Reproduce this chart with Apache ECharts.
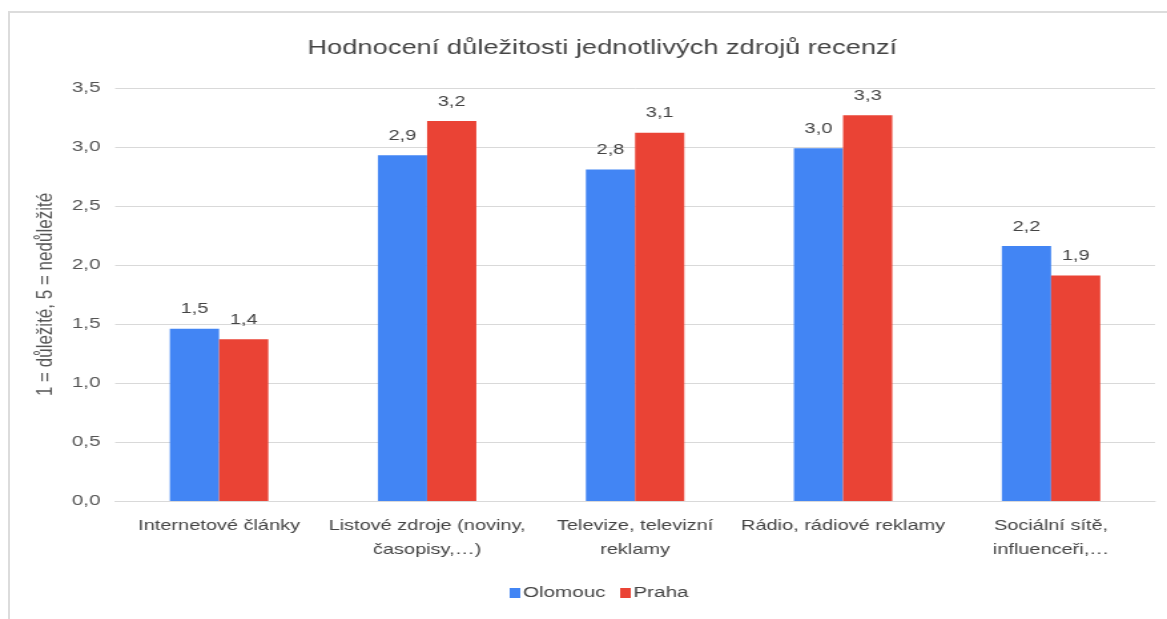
<!DOCTYPE html>
<html>
<head>
<meta charset="utf-8">
<script src="https://cdn.jsdelivr.net/npm/echarts@6/dist/echarts.min.js"></script>
<style>
  html, body { margin: 0; padding: 0; background: #fff; overflow: hidden; }
  #frame { position: absolute; left: 8px; top: 11px; width: 1159px; height: 608px;
           border-top: 2px solid #dcdcdc; border-left: 2px solid #dcdcdc; }
  /* the reference is a horizontally stretched render, so draw narrower and stretch */
  #chart { position: absolute; left: 0; top: 0; width: 877px; height: 619px;
           transform: scaleX(1.3307); transform-origin: 0 0; }
</style>
</head>
<body>
<div id="frame"></div>
<div id="chart"></div>
<script>
const categories = [
  'Internetové články',
  'Listové zdroje (noviny,\nčasopisy,…)',
  'Televize, televizní\nreklamy',
  'Rádio, rádiové reklamy',
  'Sociální sítě,\ninfluenceři,…'
]
const olomouc = [1.46, 2.93, 2.81, 2.99, 2.16]
const praha = [1.37, 3.22, 3.12, 3.27, 1.91]
const yTicks = { min: 0, max: 3.5, interval: 0.5 }

const fmt = v => Number(v).toFixed(1).replace('.', ',')
const font = 'Arial, "Liberation Sans", sans-serif'

const myChart = echarts.init(document.getElementById('chart'))

const labelStyle = {
  show: true,
  position: 'top',
  distance: 12,
  color: '#444',
  fontSize: 15,
  fontFamily: font,
  formatter: p => fmt(p.value)
}

const option = {
  backgroundColor: 'transparent',
  textStyle: { fontFamily: font },
  title: {
    text: 'Hodnocení důležitosti jednotlivých zdrojů recenzí',
    left: 226,
    top: 33,
    textStyle: { fontSize: 20.5, fontWeight: 'normal', color: '#444', fontFamily: font }
  },
  legend: {
    bottom: 13,
    left: 378,
    itemWidth: 8,
    itemHeight: 10,
    itemGap: 11,
    icon: 'rect',
    textStyle: { fontSize: 15.5, color: '#444', fontFamily: font, padding: [0, 0, 0, -3] },
    data: ['Olomouc', 'Praha']
  },
  grid: { left: 86.5, right: 9, top: 88, bottom: 118 },
  xAxis: {
    type: 'category',
    data: categories,
    axisTick: { show: false },
    axisLine: { lineStyle: { color: '#d9d9d9', width: 1 } },
    axisLabel: { color: '#444', fontSize: 15, fontFamily: font, margin: 13, lineHeight: 24, interval: 0 }
  },
  yAxis: {
    type: 'value',
    min: yTicks.min,
    max: yTicks.max,
    interval: yTicks.interval,
    name: '1 = důležité, 5 = nedůležité',
    nameLocation: 'middle',
    nameGap: 44,
    nameTextStyle: { color: '#555', fontSize: 17, fontFamily: font },
    axisLine: { show: false },
    axisTick: { show: false },
    axisLabel: { color: '#555', fontSize: 15.5, fontFamily: font, margin: 11, formatter: v => fmt(v) },
    splitLine: { lineStyle: { color: '#d9d9d9', width: 1 } }
  },
  series: [
    {
      name: 'Olomouc',
      type: 'bar',
      data: olomouc,
      barWidth: 37,
      barGap: '0%',
      itemStyle: { color: '#4285f4' },
      label: labelStyle
    },
    {
      name: 'Praha',
      type: 'bar',
      data: praha,
      barWidth: 37,
      barGap: '0%',
      itemStyle: { color: '#ea4335' },
      label: labelStyle
    }
  ]
}

myChart.setOption(option)
</script>
</body>
</html>
